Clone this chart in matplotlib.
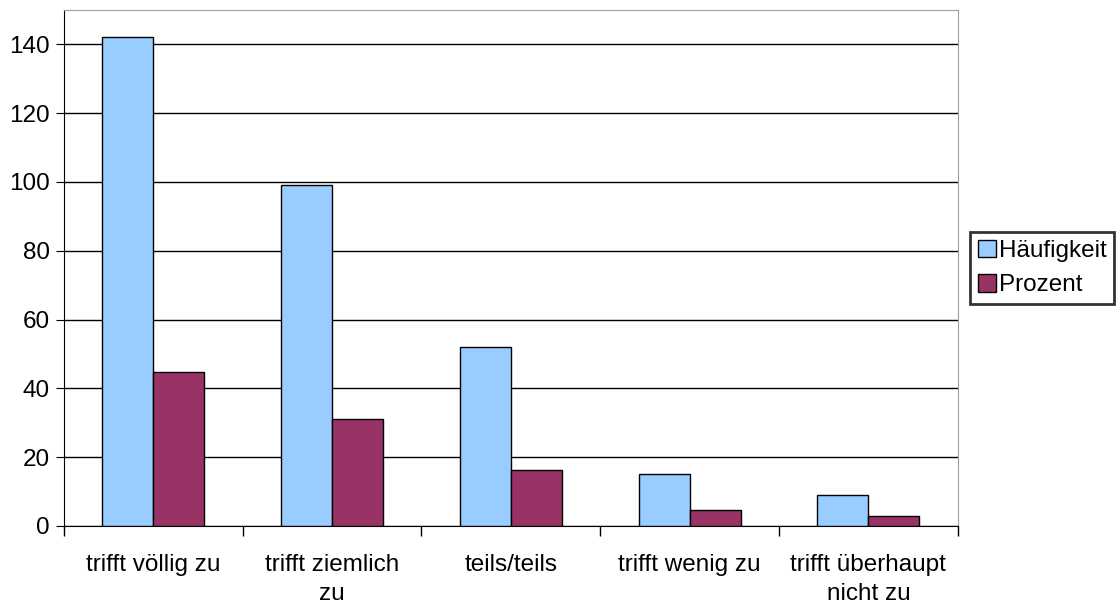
import numpy as np
import matplotlib.pyplot as plt

plt.rcParams["font.family"] = ["Liberation Sans", "DejaVu Sans"]

categories = [
    "trifft völlig zu",
    "trifft ziemlich\nzu",
    "teils/teils",
    "trifft wenig zu",
    "trifft überhaupt\nnicht zu",
]
haeufigkeit = [142, 99, 52, 15, 9]
prozent = [44.8, 31.2, 16.4, 4.7, 2.8]

fig = plt.figure(figsize=(11.2, 6.08), dpi=100)
ax = fig.add_axes([0.0571, 0.1349, 0.798, 0.8487])

x = np.arange(len(categories))
w = 0.285
ax.bar(x - w / 2, haeufigkeit, width=w, color="#99ccff", edgecolor="black",
       linewidth=1, label="Häufigkeit", zorder=3)
ax.bar(x + w / 2, prozent, width=w, color="#993366", edgecolor="black",
       linewidth=1, label="Prozent", zorder=3)

ax.set_xlim(-0.5, len(categories) - 0.5)
ax.set_ylim(0, 150)
ax.set_yticks(np.arange(0, 141, 20))
ax.yaxis.grid(True, color="black", linewidth=1, zorder=0)
ax.set_axisbelow(True)

# category ticks sit on the group boundaries, labels centred under groups
ax.set_xticks(np.arange(-0.5, len(categories)), minor=False)
ax.set_xticklabels([])
ax.set_xticks(x, minor=True)
ax.set_xticklabels(categories, minor=True, fontsize=17.5, linespacing=1.45)
ax.tick_params(axis="x", which="minor", length=0, pad=20)
ax.tick_params(axis="x", which="major", length=7, width=1, color="black")
ax.tick_params(axis="y", length=6, labelsize=17.5, pad=4)

ax.spines["top"].set_color("#a0a0a0")
ax.spines["right"].set_color("#a0a0a0")
ax.spines["left"].set_color("black")
ax.spines["bottom"].set_color("black")

leg = ax.legend(loc="center left", bbox_to_anchor=(1.014, 0.5), fontsize=17.5,
                frameon=True, fancybox=False, edgecolor="black",
                handlelength=0.75, handleheight=0.75, handletextpad=0.15,
                borderpad=0.3, labelspacing=0.5, borderaxespad=0)
leg.get_frame().set_linewidth(2)

fig.savefig("out.png", dpi=100)
